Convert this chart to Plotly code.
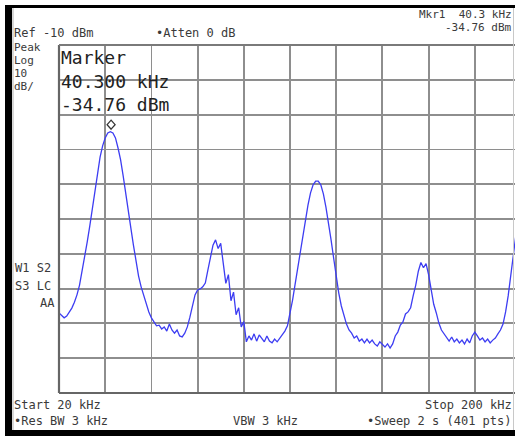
import numpy as np
import plotly.graph_objects as go

# Sweep settings
START_KHZ = 20
STOP_KHZ = 200
REF_DBM = -10
DB_PER_DIV = 10

# Trace levels (dBm), one reading per kHz from 20 to 200 kHz
level_dbm = [
    -87.0, -87.6, -88.4, -87.9, -86.7, -85.6, -83.9, -81.8, -79.0, -75.2,
    -71.2, -66.6, -62.0, -56.8, -51.7, -46.5, -42.2, -39.0, -36.7, -35.3,
    -34.9, -35.3, -36.7, -39.6, -43.0, -47.6, -52.2, -57.4, -62.6, -67.5,
    -72.4, -76.4, -79.5, -82.1, -84.7, -86.7, -88.4, -89.6, -90.7, -90.5,
    -91.6, -91.0, -92.2, -90.2, -91.9, -92.8, -91.9, -93.6, -93.9, -92.8,
    -91.0, -88.2, -84.7, -81.8, -80.4, -80.1, -79.5, -78.4, -74.7, -70.5,
    -67.5, -66.0, -68.5, -67.0, -73.0, -78.5, -76.0, -83.5, -81.0, -87.5,
    -85.5, -91.0, -89.5, -95.3, -93.6, -94.8, -93.0, -95.1, -93.3, -94.5,
    -95.3, -93.6, -95.1, -95.6, -94.5, -95.3, -94.2, -93.0, -92.2, -90.7,
    -87.3, -83.3, -78.7, -74.1, -69.5, -64.9, -60.3, -56.0, -52.5, -50.2,
    -49.1, -49.1, -50.2, -52.8, -56.6, -60.9, -66.0, -71.2, -76.7, -81.3,
    -85.0, -87.9, -90.2, -91.9, -92.8, -94.2, -93.6, -95.1, -94.5, -95.6,
    -94.5, -95.6, -94.8, -95.9, -96.5, -95.3, -96.2, -96.8, -95.9, -97.1,
    -95.9, -93.6, -92.5, -90.5, -89.6, -87.3, -86.7, -85.5, -82.0, -79.0,
    -75.0, -72.5, -74.0, -72.8, -76.0, -79.8, -84.5, -87.0, -89.9, -91.9,
    -93.0, -94.2, -95.1, -93.9, -95.3, -94.5, -95.6, -94.8, -95.9, -94.5,
    -95.6, -93.6, -92.5, -93.6, -94.8, -94.2, -95.3, -94.5, -95.6, -94.8,
    -94.2, -93.0, -91.9, -90.2, -86.7, -82.1, -76.1, -69.5, -63.7, -58.9,
    -54.5,
]
freq_khz = np.linspace(START_KHZ, STOP_KHZ, len(level_dbm))

# Marker 1 readout
MARKER_FREQ = 40.300
MARKER_LEVEL = -34.76

W, H = 515, 436
L, T, B = 59, 45, 393          # graticule pixel edges
R_FULL = 521                    # right edge of the full graticule
x_per_px = (STOP_KHZ - START_KHZ) / (R_FULL - L)
x_max = START_KHZ + (W - L) * x_per_px

y_bottom = REF_DBM - 10 * DB_PER_DIV


def px(x):
    return (x - L) / (W - L)


def py(y):
    return (B - y) / (B - T)


TEXT = "#3a3a3a"
MONO = "DejaVu Sans Mono"
GRID = "#8e8e8e"

fig = go.Figure()
fig.add_trace(go.Scatter(
    x=freq_khz, y=level_dbm, mode="lines",
    line=dict(color="#3d3df2", width=1.3),
    hoverinfo="skip", showlegend=False,
))

fig.update_layout(
    width=W, height=H,
    margin=dict(l=L, r=0, t=T, b=H - B, pad=0),
    paper_bgcolor="white", plot_bgcolor="white",
    xaxis=dict(
        range=[START_KHZ, x_max],
        tickvals=[START_KHZ + i * (STOP_KHZ - START_KHZ) / 10 for i in range(11)],
        showticklabels=False, ticks="",
        showgrid=True, gridcolor=GRID, gridwidth=1.8,
        zeroline=False, showline=False, fixedrange=True,
    ),
    yaxis=dict(
        range=[y_bottom, REF_DBM],
        tickvals=[REF_DBM - i * DB_PER_DIV for i in range(11)],
        showticklabels=False, ticks="",
        showgrid=True, gridcolor=GRID, gridwidth=1.8,
        zeroline=False, showline=False, fixedrange=True,
    ),
)

shapes = []
# graticule frame
shapes.append(dict(type="line", xref="paper", yref="paper", x0=0, x1=1, y0=0, y1=0,
                   line=dict(color="#666666", width=2.2)))
shapes.append(dict(type="line", xref="paper", yref="paper", x0=0, x1=0, y0=0, y1=1,
                   line=dict(color="#666666", width=2.2)))
shapes.append(dict(type="line", xref="paper", yref="paper", x0=0, x1=1, y0=1, y1=1,
                   line=dict(color="#7a7a7a", width=1.8)))
# instrument bezel
shapes.append(dict(type="rect", xref="paper", yref="paper",
                   x0=px(5), x1=px(12), y0=py(436), y1=py(5),
                   fillcolor="black", line=dict(width=0)))
shapes.append(dict(type="rect", xref="paper", yref="paper",
                   x0=px(5), x1=px(W), y0=py(8), y1=py(5),
                   fillcolor="black", line=dict(width=0)))
shapes.append(dict(type="rect", xref="paper", yref="paper",
                   x0=px(5), x1=px(W), y0=py(436), y1=py(430),
                   fillcolor="black", line=dict(width=0)))
shapes.append(dict(type="line", xref="paper", yref="paper",
                   x0=px(13), x1=px(13), y0=py(430), y1=py(8),
                   line=dict(color="#b0b0b0", width=1)))
shapes.append(dict(type="line", xref="paper", yref="paper",
                   x0=px(513.5), x1=px(513.5), y0=py(430), y1=py(8),
                   line=dict(color="#c8c8c8", width=1)))
# marker diamond sitting on the trace point
shapes.append(dict(type="path", xref="x", yref="y",
                   xsizemode="pixel", ysizemode="pixel",
                   xanchor=MARKER_FREQ, yanchor=MARKER_LEVEL,
                   path="M 0 2 L 4 6.5 L 0 11 L -4 6.5 Z",
                   line=dict(color="#333333", width=1.3)))
fig.update_layout(shapes=shapes)


def label(x, y, text, size=12, anchor="left", color=TEXT):
    fig.add_annotation(
        xref="paper", yref="paper", x=px(x), y=py(y), text=text,
        showarrow=False, xanchor=anchor, yanchor="middle",
        font=dict(family=MONO, size=size, color=color), borderpad=0,
    )


label(13, 33, f"Ref {REF_DBM} dBm")
label(155, 33, "•Atten 0 dB")
label(513, 15, f"Mkr1  {MARKER_FREQ:.1f} kHz", size=11, anchor="right")
label(513, 28, f"{MARKER_LEVEL:.2f} dBm", size=11, anchor="right")

for i, t in enumerate(["Peak", "Log", f"{DB_PER_DIV}", "dB/"]):
    label(13, 47 + 13 * i, t, size=11)
label(14, 268, "W1 S2")
label(14, 286, "S3 LC")
label(56, 303, "AA", anchor="right")

label(60, 58, "Marker", size=18, color="#222222")
label(60, 81, f"{MARKER_FREQ:.3f} kHz", size=18, color="#222222")
label(60, 104, f"{MARKER_LEVEL:.2f} dBm", size=18, color="#222222")

label(13, 405, f"Start {START_KHZ} kHz")
label(513, 405, f"Stop {STOP_KHZ} kHz", anchor="right")
label(13, 421, "•Res BW 3 kHz")
label(232, 421, "VBW 3 kHz")
label(513, 421, "•Sweep 2 s (401 pts)", anchor="right")

fig.write_html("out.html", config={"displayModeBar": False, "staticPlot": True})
